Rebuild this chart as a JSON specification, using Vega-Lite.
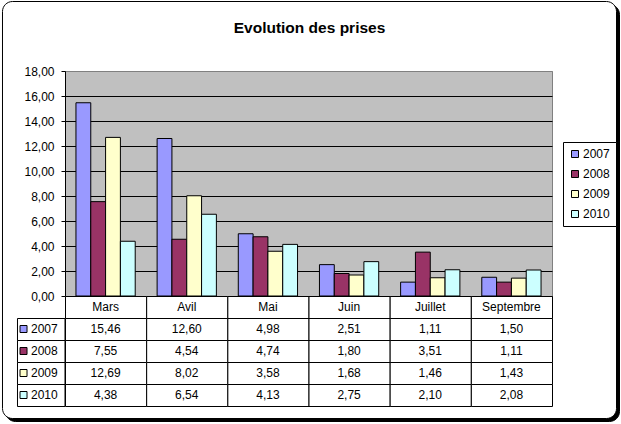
{
  "$schema": "https://vega.github.io/schema/vega-lite/v6.json",
  "padding": 1,
  "background": "white",
  "spacing": 0,
  "bounds": "flush",
  "datasets": {
    "prises": [
      {"mois": "Mars", "annee": "2007", "valeur": 15.46},
      {"mois": "Mars", "annee": "2008", "valeur": 7.55},
      {"mois": "Mars", "annee": "2009", "valeur": 12.69},
      {"mois": "Mars", "annee": "2010", "valeur": 4.38},
      {"mois": "Avil", "annee": "2007", "valeur": 12.60},
      {"mois": "Avil", "annee": "2008", "valeur": 4.54},
      {"mois": "Avil", "annee": "2009", "valeur": 8.02},
      {"mois": "Avil", "annee": "2010", "valeur": 6.54},
      {"mois": "Mai", "annee": "2007", "valeur": 4.98},
      {"mois": "Mai", "annee": "2008", "valeur": 4.74},
      {"mois": "Mai", "annee": "2009", "valeur": 3.58},
      {"mois": "Mai", "annee": "2010", "valeur": 4.13},
      {"mois": "Juin", "annee": "2007", "valeur": 2.51},
      {"mois": "Juin", "annee": "2008", "valeur": 1.80},
      {"mois": "Juin", "annee": "2009", "valeur": 1.68},
      {"mois": "Juin", "annee": "2010", "valeur": 2.75},
      {"mois": "Juillet", "annee": "2007", "valeur": 1.11},
      {"mois": "Juillet", "annee": "2008", "valeur": 3.51},
      {"mois": "Juillet", "annee": "2009", "valeur": 1.46},
      {"mois": "Juillet", "annee": "2010", "valeur": 2.10},
      {"mois": "Septembre", "annee": "2007", "valeur": 1.50},
      {"mois": "Septembre", "annee": "2008", "valeur": 1.11},
      {"mois": "Septembre", "annee": "2009", "valeur": 1.43},
      {"mois": "Septembre", "annee": "2010", "valeur": 2.08}
    ]
  },
  "vconcat": [
    {
      "width": 487,
      "height": 1,
      "title": {"text": "Evolution des prises", "font": "Liberation Sans", "fontSize": 15.5, "fontWeight": "bold", "color": "black", "anchor": "middle", "frame": "group", "offset": -35, "dx": 1},
      "data": {"values": [{}]},
      "layer": [
        {
          "mark": {"type": "rect", "fill": "black", "stroke": "black", "strokeWidth": 1, "cornerRadius": 10},
          "encoding": {
            "x": {"datum": -0.122177, "type": "quantitative", "scale": {"domain": [0, 1], "nice": false, "zero": false}, "axis": null},
            "x2": {"datum": 1.138604},
            "y": {"datum": 66.5, "type": "quantitative", "scale": {"domain": [0, 1], "nice": false, "zero": false}, "axis": null},
            "y2": {"datum": -350.5}
          }
        },
        {
          "mark": {"type": "rect", "fill": "white", "stroke": "black", "strokeWidth": 1, "cornerRadius": 10},
          "encoding": {
            "x": {"datum": -0.128337, "type": "quantitative"},
            "x2": {"datum": 1.132444},
            "y": {"datum": 69.5, "type": "quantitative"},
            "y2": {"datum": -347.5}
          }
        }
      ]
    },
    {
      "width": 487,
      "height": 225,
      "view": {"fill": "#C0C0C0", "stroke": "#808080"},
      "data": {"name": "prises"},
      "mark": {"type": "bar", "stroke": "black", "strokeWidth": 1},
      "encoding": {
        "x": {"field": "mois", "type": "nominal", "scale": {"domain": ["Mars", "Avil", "Mai", "Juin", "Juillet", "Septembre"], "paddingInner": 0.27, "paddingOuter": 0.135}, "axis": null},
        "xOffset": {"field": "annee", "type": "nominal", "scale": {"domain": ["2007", "2008", "2009", "2010"], "paddingInner": 0, "paddingOuter": 0}},
        "y": {
          "field": "valeur", "type": "quantitative",
          "scale": {"domain": [0, 18], "nice": false},
          "axis": {
            "values": [0, 2, 4, 6, 8, 10, 12, 14, 16, 18],
            "format": ".2f",
            "title": null,
            "grid": true,
            "gridColor": {"condition": {"test": "datum.value === 18", "value": "#808080"}, "value": "black"},
            "gridOpacity": 1,
            "domainColor": "black",
            "tickColor": "black",
            "tickSize": 4,
            "labelPadding": 7,
            "labelFontSize": 12,
            "labelFont": "Liberation Sans",
            "labelColor": "black"
          }
        },
        "color": {
          "field": "annee", "type": "nominal",
          "scale": {"domain": ["2007", "2008", "2009", "2010"], "range": ["#9999FF", "#993366", "#FFFFCC", "#CCFFFF"]},
          "legend": {"orient": "none", "legendX": 498, "legendY": 72, "title": null}
        }
      }
    },
    {
      "width": 487,
      "height": 110,
      "data": {"name": "prises"},
      "layer": [
        {
          "mark": {"type": "rect", "fill": "white", "stroke": "black", "strokeWidth": 1, "xOffset": 0.5, "yOffset": 0.5},
          "encoding": {
            "x": {"field": "mois", "type": "nominal", "scale": {"domain": ["Mars", "Avil", "Mai", "Juin", "Juillet", "Septembre"], "paddingInner": 0, "paddingOuter": 0}, "axis": null},
            "y": {"field": "annee", "type": "nominal", "scale": {"domain": ["Mois", "2007", "2008", "2009", "2010"], "paddingInner": 0, "paddingOuter": 0}, "axis": null}
          }
        },
        {
          "transform": [{"filter": "datum.annee === '2007'"}],
          "mark": {"type": "rect", "fill": "white", "stroke": "black", "strokeWidth": 1, "xOffset": 0.5, "yOffset": 0.5},
          "encoding": {
            "x": {"field": "mois", "type": "nominal"},
            "y": {"datum": "Mois", "type": "nominal"}
          }
        },
        {
          "transform": [{"filter": "datum.annee === '2007'"}],
          "mark": {"type": "text", "fontSize": 12, "font": "Liberation Sans", "color": "black"},
          "encoding": {
            "x": {"field": "mois", "type": "nominal"},
            "y": {"datum": "Mois", "type": "nominal"},
            "text": {"field": "mois"}
          }
        },
        {
          "mark": {"type": "text", "fontSize": 12, "font": "Liberation Sans", "color": "black"},
          "encoding": {
            "x": {"field": "mois", "type": "nominal"},
            "y": {"field": "annee", "type": "nominal"},
            "text": {"field": "valeur", "type": "quantitative", "format": ".2f"}
          }
        },
        {
          "transform": [{"filter": "datum.mois === 'Mars'"}],
          "mark": {"type": "rect", "fill": "white", "stroke": "black", "strokeWidth": 1, "xOffset": 0.5, "yOffset": 0.5},
          "encoding": {
            "x": {"datum": "Mars", "type": "nominal", "bandPosition": -0.5914},
            "x2": {"datum": "Mars", "bandPosition": 0},
            "y": {"field": "annee", "type": "nominal"}
          }
        },
        {
          "transform": [{"filter": "datum.mois === 'Mars'"}],
          "mark": {"type": "square", "size": 49, "stroke": "black", "strokeWidth": 1, "opacity": 1, "filled": true},
          "encoding": {
            "x": {"datum": "Mars", "type": "nominal", "bandPosition": -0.511},
            "y": {"field": "annee", "type": "nominal"},
            "color": {"field": "annee", "type": "nominal"}
          }
        },
        {
          "transform": [{"filter": "datum.mois === 'Mars'"}],
          "mark": {"type": "text", "fontSize": 12, "font": "Liberation Sans", "color": "black", "align": "left"},
          "encoding": {
            "x": {"datum": "Mars", "type": "nominal", "bandPosition": -0.419},
            "y": {"field": "annee", "type": "nominal"},
            "text": {"field": "annee"}
          }
        }
      ]
    }
  ],
  "config": {
    "font": "Liberation Sans",
    "locale": {"number": {"decimal": ",", "thousands": " ", "grouping": [3], "currency": ["", " €"]}},
    "view": {"stroke": null},
    "legend": {
      "strokeColor": "black",
      "fillColor": "white",
      "padding": 6,
      "labelFontSize": 12,
      "labelFont": "Liberation Sans",
      "labelColor": "black",
      "symbolType": "square",
      "symbolSize": 49,
      "symbolStrokeColor": "black",
      "symbolStrokeWidth": 1,
      "symbolOpacity": 1,
      "rowPadding": 8,
      "labelOffset": 2
    }
  }
}
